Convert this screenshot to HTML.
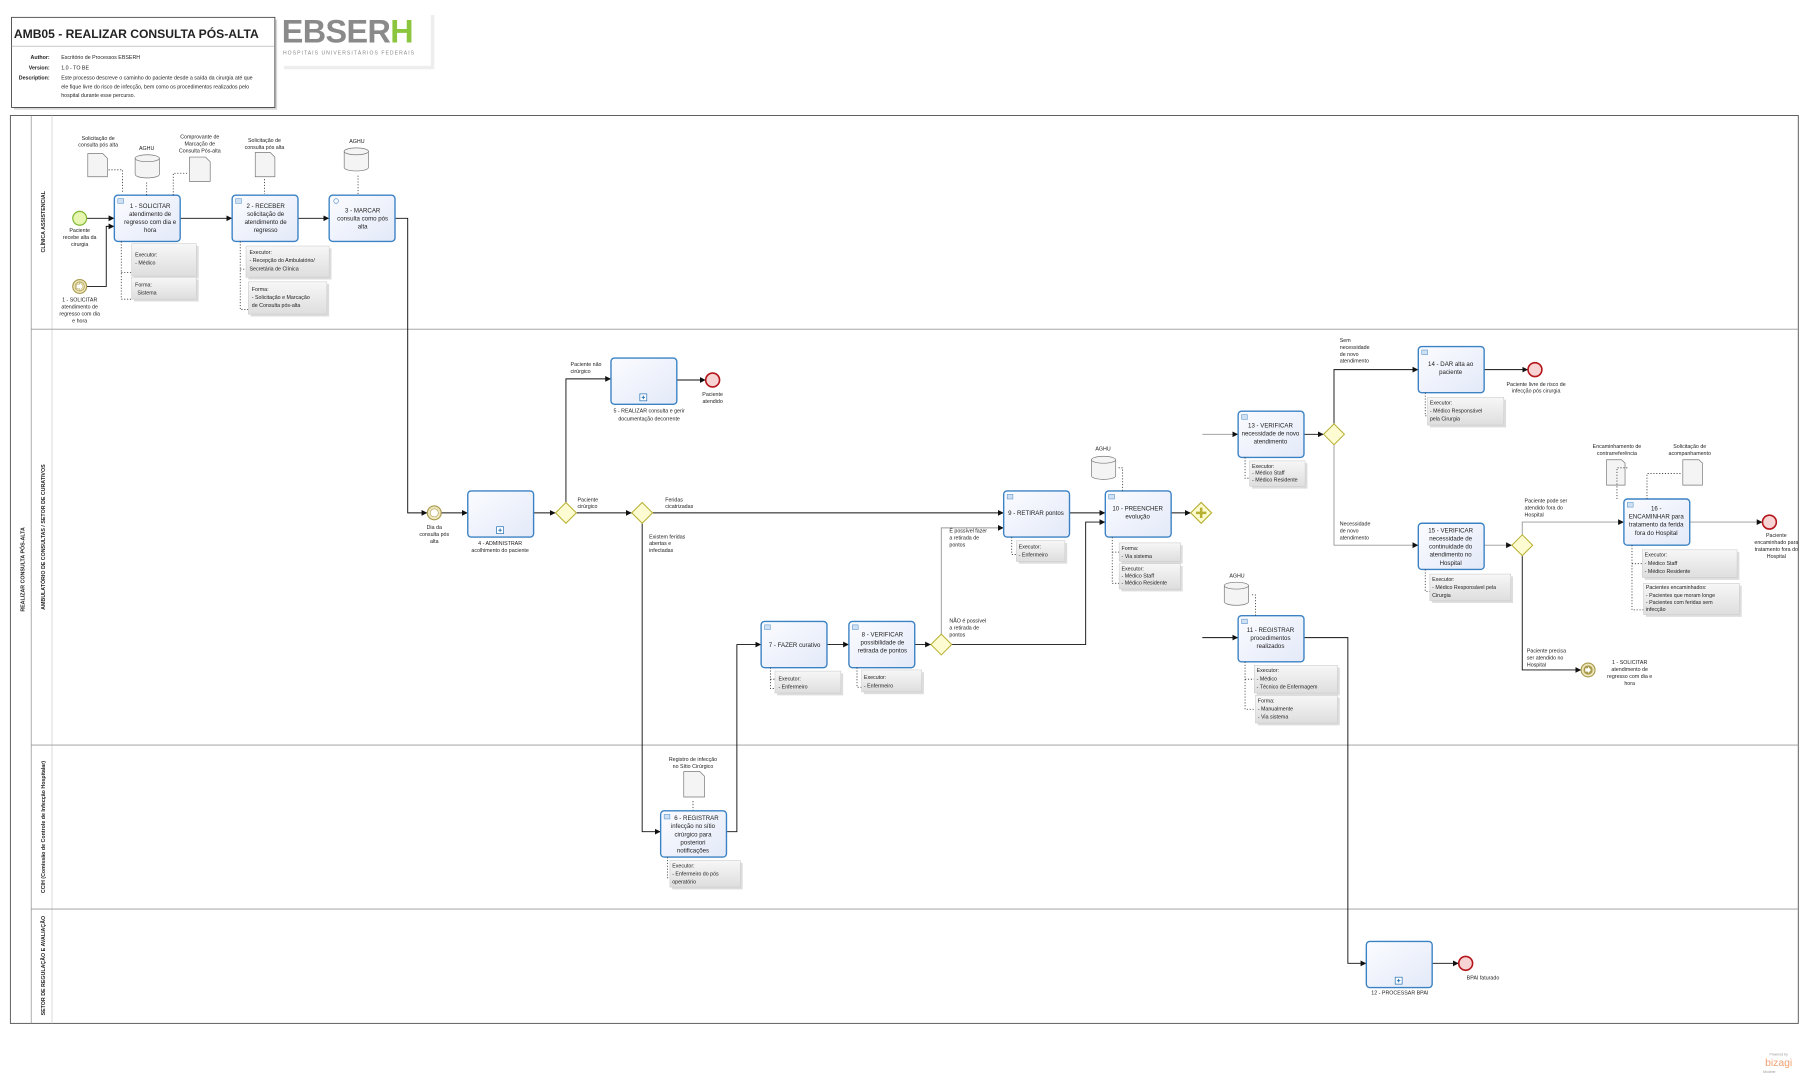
<!DOCTYPE html>
<html><head><meta charset="utf-8"><style>
html,body{margin:0;padding:0;background:#fff}
svg{display:block}
text{font-family:"Liberation Sans",sans-serif;fill:#222}
.t{font-size:5.3px;text-anchor:middle}
.s{font-size:4.6px}
.sc{font-size:4.6px;text-anchor:middle}
.ln{fill:none;stroke:#111;stroke-width:.8}
.lg{fill:none;stroke:#999;stroke-width:.8}
.dt{fill:none;stroke:#333;stroke-width:.7;stroke-dasharray:1 1.5}
.task{fill:url(#tg);stroke:#3b82c4;stroke-width:1.2}
.ann{fill:url(#ag);stroke:#ccc;stroke-width:.5}
.gw{fill:#fdfbd2;stroke:#b8b032;stroke-width:.9}
.doc{fill:#f4f4f4;stroke:#777;stroke-width:.6}
</style></head><body>
<svg width="1811" height="1080" viewBox="0 0 1568 935" preserveAspectRatio="none" xmlns="http://www.w3.org/2000/svg">
<defs>
<linearGradient id="tg" x1="0" y1="0" x2="1" y2="1"><stop offset="0" stop-color="#fbfcff"/><stop offset="1" stop-color="#e3e9f8"/></linearGradient>
<linearGradient id="ag" x1="0" y1="0" x2="0" y2="1"><stop offset="0" stop-color="#f7f7f7"/><stop offset="1" stop-color="#dedede"/></linearGradient>
<marker id="ar" markerWidth="6" markerHeight="6" refX="5" refY="3" orient="auto" markerUnits="userSpaceOnUse"><path d="M0,0.5 L5,3 L0,5.5z" fill="#111"/></marker>
<marker id="ao" markerWidth="6" markerHeight="6" refX="5" refY="3" orient="auto" markerUnits="userSpaceOnUse"><path d="M0,0.5 L5,3 L0,5.5" fill="none" stroke="#333" stroke-width=".6"/></marker>
</defs>

<!-- title -->
<rect x="12" y="17" width="228" height="78" fill="#d8d8d8"/>
<rect x="10" y="15" width="228" height="78" fill="#fff" stroke="#333" stroke-width=".7"/>
<text x="12" y="33" style="font-size:10.5px;font-weight:bold">AMB05 - REALIZAR CONSULTA PÓS-ALTA</text>
<line x1="10" y1="40" x2="238" y2="40" stroke="#aaa" stroke-width=".6"/>
<text x="43" y="51" class="s" style="text-anchor:end;font-weight:bold">Author:</text>
<text x="53" y="51" class="s">Escritório de Processos EBSERH</text>
<text x="43" y="60" class="s" style="text-anchor:end;font-weight:bold">Version:</text>
<text x="53" y="60" class="s">1.0 - TO BE</text>
<text x="43" y="69" class="s" style="text-anchor:end;font-weight:bold">Description:</text>
<text x="53" y="69" class="s">Este processo descreve o caminho do paciente desde a saída da cirurgia até que</text>
<text x="53" y="76.5" class="s">ele fique livre do risco de infecção, bem como os procedimentos realizados pelo</text>
<text x="53" y="84" class="s">hospital durante esse percurso.</text>
<!-- logo -->
<rect x="246" y="13" width="130" height="47" fill="#eee"/>
<rect x="243" y="10" width="130" height="47" fill="#fff"/>
<text x="244" y="37" style="font-size:28px;font-weight:bold;fill:#8a8a8a;letter-spacing:-0.5px">EBSER<tspan style="fill:#8cc63f">H</tspan></text>
<text x="245" y="47" style="font-size:4.4px;fill:#888;letter-spacing:.9px">HOSPITAIS UNIVERSITÁRIOS FEDERAIS</text>

<!-- pool -->
<rect x="9" y="100" width="1548" height="786" fill="#fff" stroke="#555" stroke-width=".8"/>
<line x1="27" y1="100" x2="27" y2="886" stroke="#888" stroke-width=".6"/>
<line x1="45" y1="100" x2="45" y2="886" stroke="#ccc" stroke-width=".6"/>
<line x1="27" y1="285" x2="1557" y2="285" stroke="#999" stroke-width=".8"/>
<line x1="27" y1="645" x2="1557" y2="645" stroke="#999" stroke-width=".8"/>
<line x1="27" y1="787" x2="1557" y2="787" stroke="#999" stroke-width=".8"/>
<text transform="translate(21,493) rotate(-90)" class="sc" style="font-weight:bold">REALIZAR CONSULTA PÓS-ALTA</text>
<text transform="translate(39,192) rotate(-90)" class="sc" style="font-weight:bold">CLÍNICA ASSISTENCIAL</text>
<text transform="translate(39,465) rotate(-90)" class="sc" style="font-weight:bold">AMBULATÓRIO DE CONSULTAS / SETOR DE CURATIVOS</text>
<text transform="translate(39,716) rotate(-90)" class="sc" style="font-weight:bold">CCIH (Comissão de Controle de Infecção Hospitalar)</text>
<text transform="translate(39,836) rotate(-90)" class="sc" style="font-weight:bold">SETOR DE REGULAÇÃO E AVALIAÇÃO</text>

<!-- ===== connectors ===== -->
<g>
<path class="ln" d="M75,189 H99" marker-end="url(#ar)"/>
<path class="ln" d="M75,248 H92 V196 H99" marker-end="url(#ar)"/>
<path class="ln" d="M156,189 H201" marker-end="url(#ar)"/>
<path class="ln" d="M258,189 H285" marker-end="url(#ar)"/>
<path class="ln" d="M342,189 H353 V444 H370" marker-end="url(#ar)"/>
<path class="ln" d="M382,444 H405" marker-end="url(#ar)"/>
<path class="ln" d="M462,444 H481" marker-end="url(#ar)"/>
<path class="ln" d="M490,435 V328 H529" marker-end="url(#ar)"/>
<path class="ln" d="M586,329 H611" marker-end="url(#ar)"/>
<path class="ln" d="M499,444 H547" marker-end="url(#ar)"/>
<path class="ln" d="M565,444 H869" marker-end="url(#ar)"/>
<path class="ln" d="M556,453 V720 H572" marker-end="url(#ar)"/>
<path class="ln" d="M629,720 H638 V558 H659" marker-end="url(#ar)"/>
<path class="ln" d="M716,558 H735" marker-end="url(#ar)"/>
<path class="ln" d="M792,558 H806" marker-end="url(#ar)"/>
<path class="lg" d="M815,549 V457 H869" marker-end="url(#ar)"/>
<path class="ln" d="M824,558 H940 V452 H957" marker-end="url(#ar)"/>
<path class="ln" d="M926,444 H957" marker-end="url(#ar)"/>
<path class="ln" d="M1014,444 H1031" marker-end="url(#ar)"/>
<path class="lg" d="M1041,376 H1072" marker-end="url(#ar)"/>
<path class="ln" d="M1041,552 H1072" marker-end="url(#ar)"/>
<path class="ln" d="M1129,376 H1146" marker-end="url(#ar)"/>
<path class="ln" d="M1155,367 V320 H1228" marker-end="url(#ar)"/>
<path class="ln" d="M1285,320 H1323" marker-end="url(#ar)"/>
<path class="lg" d="M1155,385 V472 H1228" marker-end="url(#ar)"/>
<path class="lg" d="M1285,472 H1309" marker-end="url(#ar)"/>
<path class="lg" d="M1318,463 V452 H1406" marker-end="url(#ar)"/>
<path class="lg" d="M1463,452 H1526" marker-end="url(#ar)"/>
<path class="ln" d="M1318,481 V580 H1369" marker-end="url(#ar)"/>
<path class="ln" d="M1129,552 H1167 V834 H1183" marker-end="url(#ar)"/>
<path class="ln" d="M1240,834 H1263" marker-end="url(#ar)"/>
</g>

<!-- ===== lane 1 ===== -->
<circle cx="69" cy="189" r="6" fill="#e6f5b0" stroke="#7cb82f" stroke-width="1"/>
<text x="69" y="201" class="sc">Paciente</text><text x="69" y="207" class="sc">recebe alta da</text><text x="69" y="213" class="sc">cirurgia</text>
<circle cx="69" cy="248" r="6" fill="#efe7bd" stroke="#a99a4c" stroke-width="1"/><circle cx="69" cy="248" r="4" fill="none" stroke="#a99a4c" stroke-width=".6"/>
<path d="M66,246 h3 v-2 l3,4 -3,4 v-2 h-3z" fill="#fff" stroke="#a99a4c" stroke-width=".4"/>
<text x="69" y="261" class="sc">1 - SOLICITAR</text><text x="69" y="267" class="sc">atendimento de</text><text x="69" y="273" class="sc">regresso com dia</text><text x="69" y="279" class="sc">e hora</text>

<rect x="99" y="169" width="57" height="40" rx="3" class="task"/>
<rect x="102" y="172" width="5" height="4" fill="#cfe0f3" stroke="#3b82c4" stroke-width=".4"/>
<text x="130" y="180" class="t">1 - SOLICITAR</text><text x="130" y="187" class="t">atendimento de</text><text x="130" y="194" class="t">regresso com dia e</text><text x="130" y="201" class="t">hora</text>
<rect x="201" y="169" width="57" height="40" rx="3" class="task"/>
<rect x="204" y="172" width="5" height="4" fill="#cfe0f3" stroke="#3b82c4" stroke-width=".4"/>
<text x="230" y="180" class="t">2 - RECEBER</text><text x="230" y="187" class="t">solicitação de</text><text x="230" y="194" class="t">atendimento de</text><text x="230" y="201" class="t">regresso</text>
<rect x="285" y="169" width="57" height="40" rx="3" class="task"/>
<circle cx="291" cy="174" r="2" fill="none" stroke="#3b82c4" stroke-width=".5"/>
<text x="314" y="184" class="t">3 - MARCAR</text><text x="314" y="191" class="t">consulta como pós</text><text x="314" y="198" class="t">alta</text>

<!-- artifacts lane1 -->
<text x="85" y="121" class="sc">Solicitação de</text><text x="85" y="127" class="sc">consulta pós alta</text>
<path class="doc" d="M76,133 h13 l4,4 v16 h-17z"/>
<path class="dt" d="M94,147 H106 V166"/>
<text x="127" y="130" class="sc">AGHU</text>
<path class="doc" d="M117,137 v14 a10.5,3 0 0 0 21,0 v-14z"/><ellipse cx="127.5" cy="137" rx="10.5" ry="3" class="doc"/>
<path class="dt" d="M127,158 V169"/>
<text x="173" y="120" class="sc">Comprovante de</text><text x="173" y="126" class="sc">Marcação de</text><text x="173" y="132" class="sc">Consulta Pós-alta</text>
<path class="doc" d="M164,136 h14 l4,4 v17 h-18z"/>
<path class="dt" d="M150,169 V150 H162"/>
<text x="229" y="123" class="sc">Solicitação de</text><text x="229" y="129" class="sc">consulta pós alta</text>
<path class="doc" d="M221,132 h13 l4,4 v17 h-17z"/>
<path class="dt" d="M229,155 V168"/>
<text x="309" y="124" class="sc">AGHU</text>
<path class="doc" d="M298,131 v14 a10.5,3 0 0 0 21,0 v-14z"/><ellipse cx="308.5" cy="131" rx="10.5" ry="3" class="doc"/>
<path class="dt" d="M310,152 V169"/>

<path class="dt" d="M105,209 V259 H114 M105,236 H114"/>
<rect x="116" y="213" width="56" height="28" fill="#ddd"/><rect x="114" y="211" width="56" height="28" class="ann"/>
<text x="117" y="222" class="s">Executor:</text><text x="117" y="229" class="s">- Médico</text>
<rect x="116" y="242" width="56" height="19" fill="#ddd"/><rect x="114" y="240" width="56" height="19" class="ann"/>
<text x="117" y="248" class="s">Forma:</text><text x="119" y="255" class="s">Sistema</text>
<path class="dt" d="M208,209 V268 H215 M208,233 H213"/>
<rect x="215" y="215" width="72" height="27" fill="#ddd"/><rect x="213" y="213" width="72" height="27" class="ann"/>
<text x="216" y="220" class="s">Executor:</text><text x="216" y="227" class="s">- Recepção do Ambulatório/</text><text x="216" y="234" class="s">Secretária de Clínica</text>
<rect x="217" y="246" width="68" height="28" fill="#ddd"/><rect x="215" y="244" width="68" height="28" class="ann"/>
<text x="218" y="252" class="s">Forma:</text><text x="218" y="259" class="s">- Solicitação e Marcação</text><text x="218" y="266" class="s">de Consulta pós-alta</text>

<!-- ===== lane 2 ===== -->
<circle cx="376" cy="444" r="6" fill="#efe7bd" stroke="#a99a4c" stroke-width="1"/><circle cx="376" cy="444" r="3.5" fill="#fff" stroke="#a99a4c" stroke-width=".5"/>
<text x="376" y="458" class="sc">Dia da</text><text x="376" y="464" class="sc">consulta pós</text><text x="376" y="470" class="sc">alta</text>
<rect x="405" y="425" width="57" height="40" rx="3" class="task"/>
<rect x="430" y="456" width="6" height="6" fill="#fff" stroke="#1f6fb5" stroke-width=".6"/><path d="M433,457.5 v3 M431.5,459 h3" stroke="#1f6fb5" stroke-width=".8"/>
<text x="433" y="472" class="sc">4 - ADMINISTRAR</text><text x="433" y="478" class="sc">acolhimento do paciente</text>
<path class="gw" d="M490,435 l9,9 -9,9 -9,-9z"/>
<text x="500" y="434" class="s">Paciente</text><text x="500" y="440" class="s">cirúrgico</text>
<text x="494" y="317" class="s">Paciente não</text><text x="494" y="323" class="s">cirúrgico</text>
<rect x="529" y="310" width="57" height="40" rx="3" class="task"/>
<rect x="554" y="341" width="6" height="6" fill="#fff" stroke="#1f6fb5" stroke-width=".6"/><path d="M557,342.5 v3 M555.5,344 h3" stroke="#1f6fb5" stroke-width=".8"/>
<text x="562" y="357" class="sc">5 - REALIZAR consulta e gerir</text><text x="562" y="364" class="sc">documentação decorrente</text>
<circle cx="617" cy="329" r="6" fill="#f7d3d3" stroke="#b5161b" stroke-width="1.4"/>
<text x="617" y="343" class="sc">Paciente</text><text x="617" y="349" class="sc">atendido</text>
<path class="gw" d="M556,435 l9,9 -9,9 -9,-9z"/>
<text x="576" y="434" class="s">Feridas</text><text x="576" y="440" class="s">cicatrizadas</text>
<text x="562" y="466" class="s">Existem feridas</text><text x="562" y="472" class="s">abertas e</text><text x="562" y="478" class="s">infectadas</text>

<rect x="659" y="538" width="57" height="40" rx="3" class="task"/>
<rect x="662" y="541" width="5" height="4" fill="#cfe0f3" stroke="#3b82c4" stroke-width=".4"/>
<text x="688" y="560" class="t">7 - FAZER curativo</text>
<path class="dt" d="M667,578 V596 H671 M667,588 H671"/>
<rect x="673" y="583" width="57" height="19" fill="#ddd"/><rect x="671" y="581" width="57" height="19" class="ann"/>
<text x="674" y="589" class="s">Executor:</text><text x="674" y="596" class="s">- Enfermeiro</text>
<rect x="735" y="538" width="57" height="40" rx="3" class="task"/>
<rect x="738" y="541" width="5" height="4" fill="#cfe0f3" stroke="#3b82c4" stroke-width=".4"/>
<text x="764" y="551" class="t">8 - VERIFICAR</text><text x="764" y="558" class="t">possibilidade de</text><text x="764" y="565" class="t">retirada de pontos</text>
<path class="dt" d="M742,578 V595 H746"/>
<rect x="748" y="582" width="52" height="19" fill="#ddd"/><rect x="746" y="580" width="52" height="19" class="ann"/>
<text x="748" y="588" class="s">Executor:</text><text x="748" y="595" class="s">- Enfermeiro</text>
<path class="gw" d="M815,549 l9,9 -9,9 -9,-9z"/>
<text x="822" y="539" class="s">NÃO é possível</text><text x="822" y="545" class="s">a retirada de</text><text x="822" y="551" class="s">pontos</text>
<text x="822" y="461" class="s">É possível fazer</text><text x="822" y="467" class="s">a retirada de</text><text x="822" y="473" class="s">pontos</text>

<rect x="869" y="425" width="57" height="40" rx="3" class="task"/>
<rect x="872" y="428" width="5" height="4" fill="#cfe0f3" stroke="#3b82c4" stroke-width=".4"/>
<text x="897" y="446" class="t">9 - RETIRAR pontos</text>
<path class="dt" d="M876,465 V480 H880"/>
<rect x="882" y="470" width="42" height="18" fill="#ddd"/><rect x="880" y="468" width="42" height="18" class="ann"/>
<text x="882" y="475" class="s">Executor:</text><text x="882" y="482" class="s">- Enfermeiro</text>

<rect x="957" y="425" width="57" height="40" rx="3" class="task"/>
<rect x="960" y="428" width="5" height="4" fill="#cfe0f3" stroke="#3b82c4" stroke-width=".4"/>
<text x="985" y="442" class="t">10 - PREENCHER</text><text x="985" y="449" class="t">evolução</text>
<text x="955" y="390" class="sc">AGHU</text>
<path class="doc" d="M945,398 v14 a10.5,3 0 0 0 21,0 v-14z"/><ellipse cx="955.5" cy="398" rx="10.5" ry="3" class="doc"/>
<path class="dt" d="M972,425 V405 H968"/>
<path class="dt" d="M963,465 V505 H969 M963,478 H969"/>
<rect x="971" y="472" width="53" height="16" fill="#ddd"/><rect x="969" y="470" width="53" height="16" class="ann"/>
<text x="971" y="476" class="s">Forma:</text><text x="971" y="483" class="s">- Via sistema</text>
<rect x="971" y="490" width="53" height="22" fill="#ddd"/><rect x="969" y="488" width="53" height="22" class="ann"/>
<text x="971" y="494" class="s">Executor:</text><text x="971" y="500" class="s">- Médico Staff</text><text x="971" y="506" class="s">- Médico Residente</text>

<path d="M1040,435 l9,9 -9,9 -9,-9z" fill="#fdfbd2" stroke="#b8b032" stroke-width="1"/>
<path d="M1040,439.5 v9 M1035.5,444 h9" stroke="#b8b032" stroke-width="2.2"/>

<rect x="1072" y="356" width="57" height="40" rx="3" class="task"/>
<rect x="1075" y="359" width="5" height="4" fill="#cfe0f3" stroke="#3b82c4" stroke-width=".4"/>
<text x="1100" y="370" class="t">13 - VERIFICAR</text><text x="1100" y="377" class="t">necessidade de novo</text><text x="1100" y="384" class="t">atendimento</text>
<path class="dt" d="M1078,396 V414 H1082"/>
<rect x="1084" y="401" width="48" height="22" fill="#ddd"/><rect x="1082" y="399" width="48" height="22" class="ann"/>
<text x="1084" y="405" class="s">Executor:</text><text x="1084" y="411" class="s">- Médico Staff</text><text x="1084" y="417" class="s">- Médico Residente</text>
<path class="gw" d="M1155,367 l9,9 -9,9 -9,-9z"/>
<text x="1160" y="296" class="s">Sem</text><text x="1160" y="302" class="s">necessidade</text><text x="1160" y="308" class="s">de novo</text><text x="1160" y="314" class="s">atendimento</text>
<text x="1160" y="455" class="s">Necessidade</text><text x="1160" y="461" class="s">de novo</text><text x="1160" y="467" class="s">atendimento</text>

<rect x="1228" y="300" width="57" height="40" rx="3" class="task"/>
<rect x="1231" y="303" width="5" height="4" fill="#cfe0f3" stroke="#3b82c4" stroke-width=".4"/>
<text x="1256" y="317" class="t">14 - DAR alta ao</text><text x="1256" y="324" class="t">paciente</text>
<path class="dt" d="M1234,340 V360 H1236"/>
<rect x="1238" y="346" width="66" height="24" fill="#ddd"/><rect x="1236" y="344" width="66" height="24" class="ann"/>
<text x="1238" y="350" class="s">Executor:</text><text x="1238" y="357" class="s">- Médico Responsável</text><text x="1238" y="364" class="s">pela Cirurgia</text>
<circle cx="1329" cy="320" r="6" fill="#f7d3d3" stroke="#b5161b" stroke-width="1.4"/>
<text x="1330" y="334" class="sc">Paciente livre de risco de</text><text x="1330" y="340" class="sc">infecção pós cirurgia</text>

<rect x="1228" y="453" width="57" height="40" rx="3" class="task"/>
<text x="1256" y="461" class="t">15 - VERIFICAR</text><text x="1256" y="468" class="t">necessidade de</text><text x="1256" y="475" class="t">continuidade do</text><text x="1256" y="482" class="t">atendimento no</text><text x="1256" y="489" class="t">Hospital</text>
<path class="dt" d="M1234,493 V512 H1238"/>
<rect x="1240" y="499" width="70" height="23" fill="#ddd"/><rect x="1238" y="497" width="70" height="23" class="ann"/>
<text x="1240" y="503" class="s">Executor:</text><text x="1240" y="510" class="s">- Médico Responsável pela</text><text x="1240" y="517" class="s">Cirurgia</text>
<path class="gw" d="M1318,463 l9,9 -9,9 -9,-9z"/>
<text x="1320" y="435" class="s">Paciente pode ser</text><text x="1320" y="441" class="s">atendido fora do</text><text x="1320" y="447" class="s">Hospital</text>
<text x="1322" y="565" class="s">Paciente precisa</text><text x="1322" y="571" class="s">ser atendido no</text><text x="1322" y="577" class="s">Hospital</text>
<circle cx="1375" cy="580" r="6" fill="#efe7bd" stroke="#a99a4c" stroke-width="1"/><circle cx="1375" cy="580" r="4" fill="#a99a4c"/>
<path d="M1372.5,578.5 h2.5 v-1.5 l2.5,3 -2.5,3 v-1.5 h-2.5z" fill="#fff"/>
<text x="1411" y="575" class="sc">1 - SOLICITAR</text><text x="1411" y="581" class="sc">atendimento de</text><text x="1411" y="587" class="sc">regresso com dia e</text><text x="1411" y="593" class="sc">hora</text>

<rect x="1406" y="432" width="57" height="40" rx="3" class="task"/>
<rect x="1409" y="435" width="5" height="4" fill="#cfe0f3" stroke="#3b82c4" stroke-width=".4"/>
<text x="1434" y="442" class="t">16 -</text><text x="1434" y="449" class="t">ENCAMINHAR para</text><text x="1434" y="456" class="t">tratamento da ferida</text><text x="1434" y="463" class="t">fora do Hospital</text>
<text x="1400" y="388" class="sc">Encaminhamento de</text><text x="1400" y="394" class="sc">contrarreferência</text>
<path class="doc" d="M1391,398 h13 l3,3 v19 h-16z"/>
<path class="dt" d="M1400,432 V405 H1409"/>
<text x="1463" y="388" class="sc">Solicitação de</text><text x="1463" y="394" class="sc">acompanhamento</text>
<path class="doc" d="M1457,398 h14 l3,3 v19 h-17z"/>
<path class="dt" d="M1426,432 V410 H1455"/>
<path class="dt" d="M1413,472 V528 H1423 M1413,488 H1422"/>
<rect x="1424" y="478" width="82" height="24" fill="#ddd"/><rect x="1422" y="476" width="82" height="24" class="ann"/>
<text x="1424" y="482" class="s">Executor:</text><text x="1424" y="489" class="s">- Médico Staff</text><text x="1424" y="496" class="s">- Médico Residente</text>
<rect x="1425" y="507" width="83" height="27" fill="#ddd"/><rect x="1423" y="505" width="83" height="27" class="ann"/>
<text x="1425" y="510" class="s">Pacientes encaminhados:</text><text x="1425" y="517" class="s">- Pacientes que moram longe</text><text x="1425" y="523" class="s">- Pacientes com feridas sem</text><text x="1425" y="529" class="s">infecção</text>
<circle cx="1532" cy="452" r="6" fill="#f7d3d3" stroke="#b5161b" stroke-width="1.4"/>
<text x="1538" y="465" class="sc">Paciente</text><text x="1538" y="471" class="sc">encaminhado para</text><text x="1538" y="477" class="sc">tratamento fora do</text><text x="1538" y="483" class="sc">Hospital</text>

<rect x="1072" y="533" width="57" height="40" rx="3" class="task"/>
<rect x="1075" y="536" width="5" height="4" fill="#cfe0f3" stroke="#3b82c4" stroke-width=".4"/>
<text x="1100" y="547" class="t">11 - REGISTRAR</text><text x="1100" y="554" class="t">procedimentos</text><text x="1100" y="561" class="t">realizados</text>
<text x="1071" y="500" class="sc">AGHU</text>
<path class="doc" d="M1060,507 v14 a10.5,3 0 0 0 21,0 v-14z"/><ellipse cx="1070.5" cy="507" rx="10.5" ry="3" class="doc"/>
<path class="dt" d="M1087,533 V515 H1083"/>
<path class="dt" d="M1078,573 V614 H1087 M1078,588 H1086"/>
<rect x="1088" y="578" width="72" height="24" fill="#ddd"/><rect x="1086" y="576" width="72" height="24" class="ann"/>
<text x="1088" y="582" class="s">Executor:</text><text x="1088" y="589" class="s">- Médico</text><text x="1088" y="596" class="s">- Técnico de Enfermagem</text>
<rect x="1089" y="604" width="71" height="24" fill="#ddd"/><rect x="1087" y="602" width="71" height="24" class="ann"/>
<text x="1089" y="608" class="s">Forma:</text><text x="1089" y="615" class="s">- Manualmente</text><text x="1089" y="622" class="s">- Via sistema</text>

<!-- lane 3 -->
<text x="600" y="659" class="sc">Registro de infecção</text><text x="600" y="665" class="sc">no Sítio Cirúrgico</text>
<path class="doc" d="M592,668 h14 l4,4 v18 h-18z"/>
<path class="dt" d="M600,702 V692"/>
<rect x="572" y="702" width="57" height="40" rx="3" class="task"/>
<rect x="575" y="705" width="5" height="4" fill="#cfe0f3" stroke="#3b82c4" stroke-width=".4"/>
<text x="603" y="710" class="t">6 - REGISTRAR</text><text x="600" y="717" class="t">infecção no sítio</text><text x="600" y="724" class="t">cirúrgico para</text><text x="600" y="731" class="t">posteriori</text><text x="600" y="738" class="t">notificações</text>
<path class="dt" d="M578,742 V760 H580"/>
<rect x="582" y="747" width="61" height="23" fill="#ddd"/><rect x="580" y="745" width="61" height="23" class="ann"/>
<text x="582" y="751" class="s">Executor:</text><text x="582" y="758" class="s">- Enfermeiro do pós</text><text x="582" y="765" class="s">operatório</text>

<!-- lane 4 -->
<rect x="1183" y="815" width="57" height="40" rx="3" class="task"/>
<rect x="1208" y="846" width="6" height="6" fill="#fff" stroke="#1f6fb5" stroke-width=".6"/><path d="M1211,847.5 v3 M1209.5,849 h3" stroke="#1f6fb5" stroke-width=".8"/>
<text x="1212" y="861" class="sc">12 - PROCESSAR BPAI</text>
<circle cx="1269" cy="834" r="6" fill="#f7d3d3" stroke="#b5161b" stroke-width="1.4"/>
<text x="1284" y="848" class="sc">BPAI faturado</text>

<!-- bizagi -->
<text x="1540" y="914" class="sc" style="font-size:3px;fill:#999">Powered by</text>
<text x="1540" y="923" class="sc" style="font-size:9px;fill:#f0a070">bizagi</text>
<text x="1532" y="929" class="sc" style="font-size:3px;fill:#999">Modeler</text>
</svg>
</body></html>
